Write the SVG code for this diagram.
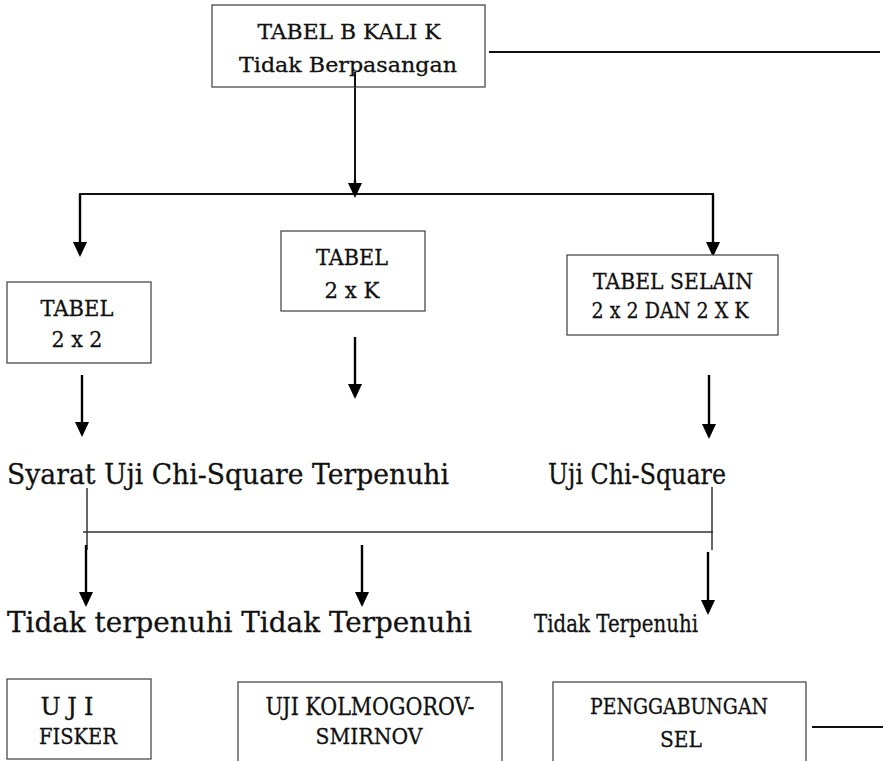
<svg xmlns="http://www.w3.org/2000/svg" width="883" height="761" viewBox="0 0 883 761">
  <defs>
    <marker id="head" viewBox="0 0 15 14" markerUnits="userSpaceOnUse" markerWidth="15" markerHeight="14" refX="12" refY="7" orient="auto">
      <path d="M0,0 L15,7 L0,14 Z" fill="#000"/>
    </marker>
  </defs>
  <style>
    .box { fill: #fff; stroke: #4a4a4a; stroke-width: 1.3; }
    .t, .tl { font-family: "DejaVu Serif", "Liberation Serif", serif; fill: #111; stroke: #111; stroke-width: 0.3; }
    .t { text-anchor: middle; }
    .arrow { stroke: #000; stroke-width: 2.4; fill: none; marker-end: url(#head); }
    .bar { stroke: #111; stroke-width: 2; fill: none; }
    .thin { stroke: #333; stroke-width: 1.5; fill: none; }
  </style>

  <rect width="883" height="761" fill="#fff"/>

  <!-- connectors -->
  <g id="connectors">
    <line class="bar" x1="489" y1="52" x2="880" y2="52"/>
    <line class="bar" x1="355" y1="72" x2="355" y2="185"/>
    <line class="bar" x1="79" y1="194" x2="714" y2="194"/>
    <line class="arrow" x1="355" y1="180" x2="355" y2="195"/>
    <line class="arrow" x1="80" y1="194" x2="80" y2="254"/>
    <line class="arrow" x1="713" y1="194" x2="713" y2="254"/>
    <line class="arrow" x1="82" y1="375" x2="82" y2="434"/>
    <line class="arrow" x1="355" y1="337" x2="355" y2="396"/>
    <line class="arrow" x1="709" y1="375" x2="709" y2="436"/>
    <line class="thin" x1="87" y1="488" x2="87" y2="550"/>
    <line class="thin" x1="83" y1="532" x2="713" y2="532"/>
    <line class="thin" x1="712" y1="487" x2="712" y2="550"/>
    <line class="arrow" x1="86" y1="545" x2="86" y2="604"/>
    <line class="arrow" x1="362" y1="545" x2="362" y2="604"/>
    <line class="arrow" x1="708" y1="552" x2="708" y2="612"/>
    <line class="bar" x1="812" y1="727" x2="883" y2="727"/>
  </g>

  <g id="tabel-b-kali-k">
    <rect class="box" x="212" y="5" width="273" height="82"/>
    <text class="t" x="349" y="39" font-size="20" textLength="183" lengthAdjust="spacingAndGlyphs">TABEL B KALI K</text>
    <text class="t" x="348" y="72" font-size="21" textLength="218" lengthAdjust="spacingAndGlyphs">Tidak Berpasangan</text>
  </g>
  <!-- stem runs over the lower line of the box text -->
  <line x1="355" y1="72" x2="355" y2="87" stroke="#111" stroke-width="2"/>

  <g id="tabel-2x2">
    <rect class="box" x="7" y="282" width="144" height="81"/>
    <text class="t" x="77" y="316" font-size="23" textLength="73" lengthAdjust="spacingAndGlyphs">TABEL</text>
    <text class="t" x="77" y="347" font-size="23" textLength="51" lengthAdjust="spacingAndGlyphs">2 x 2</text>
  </g>

  <g id="tabel-2xk">
    <rect class="box" x="281" y="231" width="144" height="80"/>
    <text class="t" x="352" y="265" font-size="23" textLength="72" lengthAdjust="spacingAndGlyphs">TABEL</text>
    <text class="t" x="352" y="298" font-size="23" textLength="55" lengthAdjust="spacingAndGlyphs">2 x K</text>
  </g>

  <g id="tabel-selain">
    <rect class="box" x="567" y="255" width="211" height="80"/>
    <text class="t" x="673" y="289" font-size="23" textLength="160" lengthAdjust="spacingAndGlyphs">TABEL SELAIN</text>
    <text class="t" x="670" y="318" font-size="22" textLength="157" lengthAdjust="spacingAndGlyphs">2 x 2 DAN 2 X K</text>
  </g>

  <g id="syarat">
    <text class="tl" x="7" y="484" font-size="28" textLength="442" lengthAdjust="spacingAndGlyphs">Syarat Uji Chi-Square  Terpenuhi</text>
  </g>

  <g id="uji-chi-square">
    <text class="tl" x="548" y="484" font-size="27" textLength="178" lengthAdjust="spacingAndGlyphs">Uji Chi-Square</text>
  </g>

  <g id="tidak-terpenuhi">
    <text class="tl" x="7" y="632" font-size="28" textLength="465" lengthAdjust="spacingAndGlyphs">Tidak terpenuhi  Tidak Terpenuhi</text>
  </g>

  <g id="tidak-terpenuhi-kanan">
    <text class="tl" x="534" y="632" font-size="25" textLength="164" lengthAdjust="spacingAndGlyphs">Tidak Terpenuhi</text>
  </g>

  <g id="uji-fisker">
    <rect class="box" x="7" y="679" width="144" height="80"/>
    <text class="t" x="67" y="715" font-size="24" textLength="53" lengthAdjust="spacing">UJI</text>
    <text class="t" x="78" y="744" font-size="23" textLength="78" lengthAdjust="spacingAndGlyphs">FISKER</text>
  </g>

  <g id="uji-kolmogorov">
    <rect class="box" x="238" y="682" width="264" height="90"/>
    <text class="t" x="370" y="715" font-size="24" textLength="209" lengthAdjust="spacingAndGlyphs">UJI KOLMOGOROV-</text>
    <text class="t" x="369" y="744" font-size="23" textLength="107" lengthAdjust="spacingAndGlyphs">SMIRNOV</text>
  </g>

  <g id="penggabungan-sel">
    <rect class="box" x="553" y="682" width="253" height="90"/>
    <text class="t" x="679" y="714" font-size="22" textLength="178" lengthAdjust="spacingAndGlyphs">PENGGABUNGAN</text>
    <text class="t" x="681" y="747" font-size="23" textLength="42" lengthAdjust="spacingAndGlyphs">SEL</text>
  </g>
</svg>
